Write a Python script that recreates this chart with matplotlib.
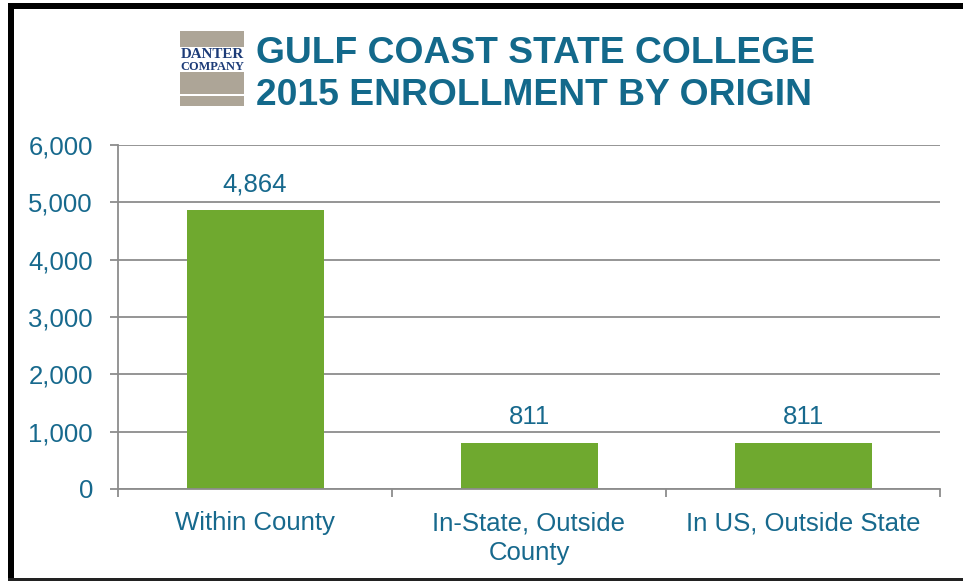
import matplotlib
matplotlib.use("Agg")
import matplotlib.pyplot as plt
from matplotlib.patches import Rectangle
from matplotlib.ticker import FuncFormatter

categories = ["Within County", "In-State, Outside\nCounty", "In US, Outside State"]
values = [4864, 811, 811]
yticks = [0, 1000, 2000, 3000, 4000, 5000, 6000]
title_lines = ["GULF COAST STATE COLLEGE", "2015 ENROLLMENT BY ORIGIN"]

W, H = 963, 581
TEXT = "#17698D"
GRID = "#8C8C8C"
BAR = "#6FA92F"
GRAYLOGO = "#ADA597"

plt.rcParams['font.family'] = ['Liberation Sans', 'DejaVu Sans']

fig = plt.figure(figsize=(W / 100, H / 100), dpi=100)
fig.patch.set_facecolor("white")

def fx(px):
    return px / W

def fy(py):
    return 1 - py / H

ax = fig.add_axes([fx(118), fy(489), fx(940) - fx(118), fy(145) - fy(489)])

x = list(range(len(categories)))
ax.bar(x, values, width=0.5, color=BAR, zorder=3)
ax.set_xlim(-0.5, len(categories) - 0.5)
ax.set_ylim(0, 6000)
ax.set_yticks(yticks)
ax.yaxis.set_major_formatter(FuncFormatter(lambda v, p: f"{int(v):,}"))
ax.grid(axis="y", color=GRID, linewidth=1.3, zorder=1)
ax.set_axisbelow(True)

for s in ["top", "right"]:
    ax.spines[s].set_visible(False)
for s in ["left", "bottom"]:
    ax.spines[s].set_color(GRID)
    ax.spines[s].set_linewidth(1.3)
    ax.spines[s].set_zorder(4)

ax.tick_params(axis="y", length=6, width=1.3, color=GRID, labelcolor=TEXT,
               labelsize=18.5, pad=12)
ax.set_xticks(x)
ax.set_xticklabels(categories)
ax.tick_params(axis="x", which="major", length=0, labelcolor=TEXT,
               labelsize=18.5, pad=16)
ax.set_xticks([i - 0.5 for i in range(len(categories) + 1)], minor=True)
ax.tick_params(axis="x", which="minor", length=6, width=1.3, color=GRID)
for lbl in ax.get_xticklabels():
    lbl.set_linespacing(1.3)

for xi, v in zip(x, values):
    ax.annotate(f"{v:,}", xy=(xi, v), xytext=(0, 10), textcoords="offset points",
                ha="center", va="bottom", color=TEXT, fontsize=18.5)

# Title
fig.text(fx(256), fy(63), title_lines[0], color="#13698B", fontsize=26.8,
         fontweight="bold", ha="left", va="baseline")
fig.text(fx(256), fy(105), title_lines[1], color="#13698B", fontsize=26.8,
         fontweight="bold", ha="left", va="baseline")

# Logo
def rect(x0, y0, x1, y1, color):
    fig.patches.append(Rectangle((fx(x0), fy(y1)), fx(x1) - fx(x0), fy(y0) - fy(y1),
                                 transform=fig.transFigure, color=color, lw=0))

rect(180, 31, 244, 47, GRAYLOGO)
rect(180, 72, 244, 94, GRAYLOGO)
rect(180, 95.5, 244, 106, GRAYLOGO)
fig.text(fx(212), fy(58.5), "DANTER", family=["Liberation Serif", "DejaVu Serif"],
         fontsize=10.8, fontweight="bold", color="#1D3C78", ha="center", va="baseline")
fig.text(fx(212), fy(70.5), "COMPANY", family=["Liberation Serif", "DejaVu Serif"],
         fontsize=8.9, fontweight="bold", color="#1D3C78", ha="center", va="baseline")

# Black frame
rect(8, 3, W, 9, "black")
rect(8, 3, 14, H, "black")
rect(8, 578, W, H, "#222222")

fig.savefig("out.png", dpi=100, facecolor="white")
